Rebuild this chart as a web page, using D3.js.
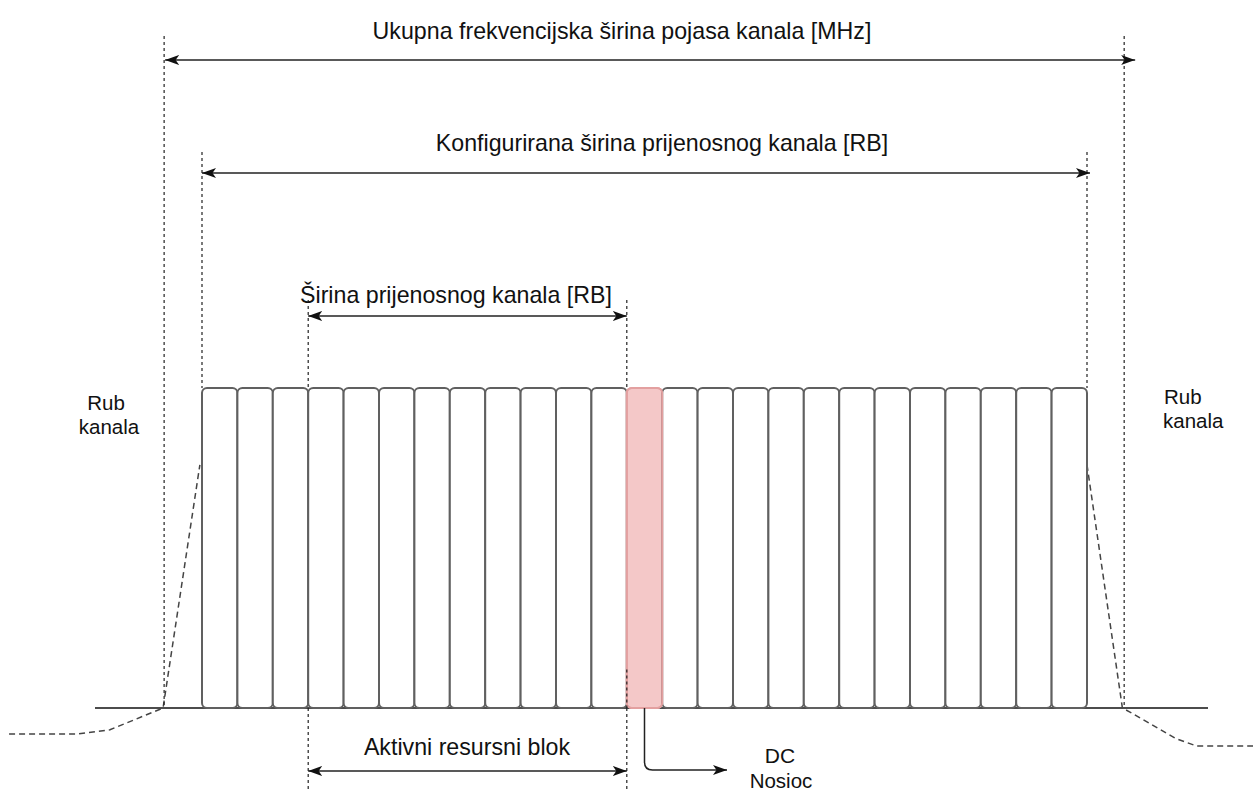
<!DOCTYPE html>
<html>
<head>
<meta charset="utf-8">
<script src="https://cdn.jsdelivr.net/npm/d3@7"></script>
<style>
  html, body { margin: 0; padding: 0; background: #fff; }
  svg { display: block; }
  text { font-family: "Liberation Sans", Arial, sans-serif; fill: #111; }
</style>
</head>
<body>
<svg id="chart" width="1253" height="794"></svg>
<script>
// ---- data (resource-block units on the frequency axis) ----
const resourceBlocks = [0,1,2,3,4,5,6,7,8,9,10,11,12,13,14,15,16,17,18,19,20,21,22,23,24];
const dcBlock = 12;
const totalBandwidth = [-1.07, 26.05];      // Ukupna frekvencijska širina pojasa kanala
const configuredBandwidth = [0, 25];        // Konfigurirana širina prijenosnog kanala
const transmissionBandwidth = [3, 12];      // Širina prijenosnog kanala
const activeBlocks = [3, 12];               // Aktivni resursni blok
const maskLeftX = [-5.45, -3.5, -2.6, -1.1, -0.06];
const maskLeftY = [-0.081, -0.081, -0.068, 0, 0.76];
const maskRightX = [25.0, 26.0, 26.2, 27.5, 28.1, 29.7];
const maskRightY = [0.76, 0, -0.012, -0.095, -0.119, -0.119];
const labels = {
  total: "Ukupna frekvencijska širina pojasa kanala [MHz]",
  configured: "Konfigurirana širina prijenosnog kanala [RB]",
  transmission: "Širina prijenosnog kanala [RB]",
  active: "Aktivni resursni blok",
  dc: ["DC", "Nosioc"],
  edge: ["Rub", "kanala"]
};

const svg = d3.select("#chart");
const x = d3.scaleLinear().domain([0, 25]).range([202, 1087]);
const y = d3.scaleLinear().domain([0, 1]).range([708, 388]);

// arrow markers
const defs = svg.append("defs");
function marker(id, flip) {
  defs.append("marker")
    .attr("id", id)
    .attr("markerUnits", "userSpaceOnUse")
    .attr("viewBox", "0 0 14 10")
    .attr("markerWidth", 14).attr("markerHeight", 10)
    .attr("refX", flip ? 0 : 14).attr("refY", 5)
    .attr("orient", "0")
    .append("path")
    .attr("d", flip ? "M0,5 L14,0 L10.5,5 L14,10 Z" : "M14,5 L0,0 L3.5,5 L0,10 Z")
    .attr("fill", "#111");
}
marker("arrEnd", false);
marker("arrStart", true);

// baseline
svg.append("line")
  .attr("x1", 95).attr("x2", 1208)
  .attr("y1", y(0)).attr("y2", y(0))
  .attr("stroke", "#111").attr("stroke-width", 1.5);

// spectrum mask (dashed)
const maskLine = d3.line().x(d => x(d[0])).y(d => y(d[1]));
const maskL = maskLeftX.map((v, i) => [v, maskLeftY[i]]);
const maskR = maskRightX.map((v, i) => [v, maskRightY[i]]);
[maskL, maskR].forEach(pts => {
  svg.append("path")
    .attr("d", maskLine(pts))
    .attr("fill", "none")
    .attr("stroke", "#444")
    .attr("stroke-width", 1.5)
    .attr("stroke-dasharray", "6,4");
});

// resource blocks
svg.append("g").selectAll("rect")
  .data(resourceBlocks)
  .join("rect")
  .attr("x", d => x(d))
  .attr("y", y(1))
  .attr("width", d => x(d + 1) - x(d))
  .attr("height", y(0) - y(1))
  .attr("rx", 5).attr("ry", 5)
  .attr("fill", d => d === dcBlock ? "#f4c8c8" : "#fff")
  .attr("stroke", d => d === dcBlock ? "#e3a0a0" : "#606060")
  .attr("stroke-width", 2);
svg.append("rect")
  .attr("x", x(dcBlock)).attr("y", y(1))
  .attr("width", x(dcBlock + 1) - x(dcBlock)).attr("height", y(0) - y(1))
  .attr("rx", 5).attr("ry", 5)
  .attr("fill", "none").attr("stroke", "#e3a0a0").attr("stroke-width", 2);

// vertical dashed guides
function vguide(u, y1, y2) {
  svg.append("line")
    .attr("x1", x(u)).attr("x2", x(u))
    .attr("y1", y1).attr("y2", y2)
    .attr("stroke", "#222").attr("stroke-width", 1.2)
    .attr("stroke-dasharray", "3,3");
}
vguide(totalBandwidth[0], 36, y(0));
vguide(totalBandwidth[1], 36, y(0));
vguide(configuredBandwidth[0], 152, y(1));
vguide(configuredBandwidth[1], 152, y(1));
vguide(transmissionBandwidth[0], 300, y(1));
vguide(transmissionBandwidth[1], 300, y(1));
vguide(activeBlocks[0], y(0), 792);
vguide(activeBlocks[1], y(0), 792);
vguide(activeBlocks[1], y(0.12), y(0));

// double arrows
function dblArrow(x1, x2, yy) {
  svg.append("line")
    .attr("x1", x1).attr("x2", x2)
    .attr("y1", yy).attr("y2", yy)
    .attr("stroke", "#222").attr("stroke-width", 1.5)
    .attr("marker-start", "url(#arrStart)")
    .attr("marker-end", "url(#arrEnd)");
}
dblArrow(x(totalBandwidth[0]) + 1, x(totalBandwidth[1]) + 11, 60);
dblArrow(x(configuredBandwidth[0]), x(configuredBandwidth[1]) + 3, 173);
dblArrow(x(transmissionBandwidth[0]), x(transmissionBandwidth[1]), 316);
dblArrow(x(activeBlocks[0]), x(activeBlocks[1]), 771);

// DC connector
const cx = x(dcBlock + 0.5);
svg.append("path")
  .attr("d", `M${cx},${y(0)} V762 Q${cx},770 ${cx + 8},770 H727`)
  .attr("fill", "none")
  .attr("stroke", "#222").attr("stroke-width", 1.5)
  .attr("marker-end", "url(#arrEnd)");

// texts
function txt(s, tx, ty, anchor, size) {
  svg.append("text").attr("x", tx).attr("y", ty)
    .attr("text-anchor", anchor || "middle")
    .attr("font-size", size || 23.2).text(s);
}
txt(labels.total, 622, 39);
txt(labels.configured, 662, 151);
txt(labels.transmission, 456, 303);
txt(labels.active, 467, 755);
txt(labels.dc[0], 780, 763, "middle", 21);
txt(labels.dc[1], 781, 788, "middle", 20.5);
txt(labels.edge[0], 106, 410, "middle", 20.5);
txt(labels.edge[1], 109, 434, "middle", 20.5);
txt(labels.edge[0], 1164, 404, "start", 20.5);
txt(labels.edge[1], 1163, 428, "start", 20.5);
</script>
</body>
</html>
